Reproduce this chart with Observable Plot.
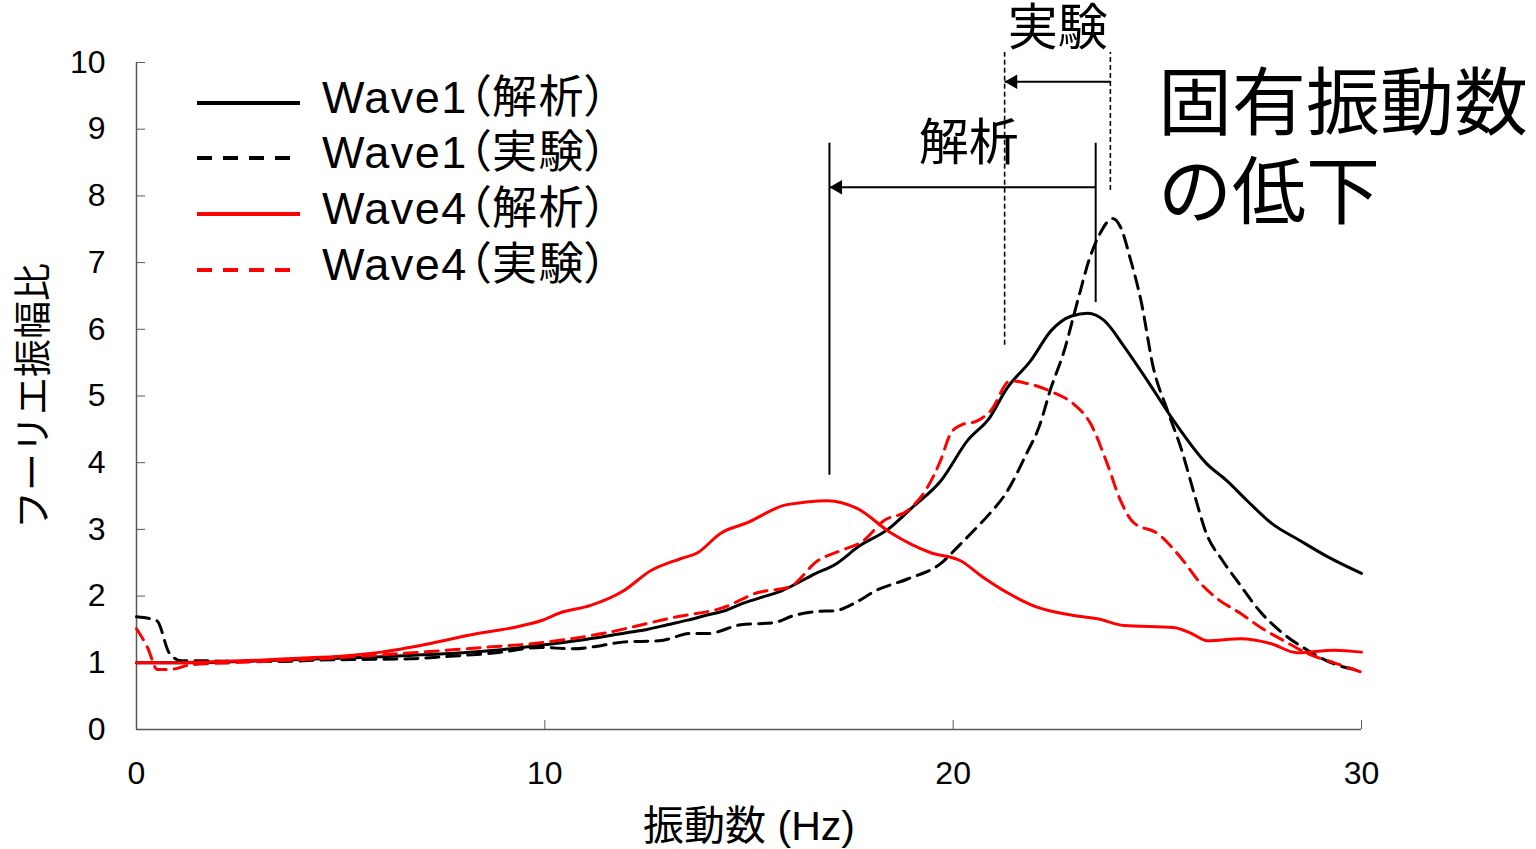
<!DOCTYPE html>
<html>
<head>
<meta charset="utf-8">
<script src="https://cdn.jsdelivr.net/npm/d3@7"></script>
<script src="https://cdn.jsdelivr.net/npm/@observablehq/plot@0.6"></script>
<style>
  html, body { margin: 0; padding: 0; background: #fff; }
  #chart { position: relative; width: 1536px; height: 849px; }
  svg g.legend text { font-feature-settings: "palt"; }
</style>
</head>
<body>
<div id="chart"></div>
<script>
// ---- Data ----
const xTicks = [0, 10, 20, 30];
const yTicks = [0, 1, 2, 3, 4, 5, 6, 7, 8, 9, 10];

// Wave1 (解析) – black solid
const w1aF = [0,1,2,3,4,5,6,7,8,9,10,11,12,12.5,13,13.5,14,14.4,14.8,15.3,15.8,16.2,16.6,17.1,17.7,18.4,19,19.7,20.35,20.9,21.3,21.9,22.4,22.9,23.3,23.7,24.2,24.8,25.4,26.2,26.7,27.2,27.8,28.5,29.2,30];
const w1aV = [1.0,1.0,1.01,1.03,1.05,1.07,1.09,1.12,1.15,1.2,1.27,1.35,1.45,1.5,1.57,1.64,1.72,1.78,1.88,1.98,2.08,2.2,2.33,2.47,2.75,3.0,3.33,3.73,4.33,4.68,5.1,5.53,5.98,6.2,6.24,6.13,5.73,5.19,4.63,3.99,3.73,3.43,3.09,2.83,2.58,2.34];

// Wave1 (実験) – black dashed
const w1eF = [0,0.5,0.8,1.1,1.7,2.5,3.5,4.5,5.5,6.7,7.5,8.8,9.9,10.7,11.4,11.9,12.8,13.6,14.0,14.8,15.6,16.1,16.7,17.1,17.6,18.1,18.9,19.7,20.1,20.5,20.9,21.3,21.8,22.1,22.4,22.7,23.05,23.35,23.6,23.9,24.1,24.35,24.6,24.9,25.25,25.6,25.9,26.2,26.6,27.0,27.5,28.0,28.7,29.3,30];
const w1eV = [1.69,1.63,1.15,1.03,1.03,1.02,1.02,1.04,1.05,1.06,1.09,1.15,1.23,1.21,1.26,1.31,1.33,1.44,1.44,1.57,1.6,1.71,1.77,1.78,1.9,2.08,2.26,2.49,2.73,2.98,3.24,3.55,4.14,4.53,5.13,5.64,6.43,7.08,7.44,7.66,7.53,7.03,6.43,5.43,4.78,4.18,3.54,2.94,2.53,2.19,1.78,1.48,1.18,0.99,0.88];

// Wave4 (解析) – red solid
const w4aF = [0,1,2,3,4,5,6,7.2,8.35,9.24,9.9,10.38,11.12,11.93,12.59,13.32,13.74,14.3,14.96,15.85,16.4,16.92,17.66,18.47,19.45,20.18,20.74,21.33,22.07,22.95,23.54,24.18,25.4,25.8,26.23,27.04,27.77,28.43,29.33,30];
const w4aV = [1.0,1.0,1.02,1.04,1.07,1.1,1.16,1.29,1.44,1.53,1.63,1.75,1.86,2.08,2.38,2.56,2.65,2.94,3.10,3.36,3.41,3.43,3.31,2.95,2.65,2.53,2.28,2.05,1.83,1.71,1.66,1.56,1.53,1.45,1.33,1.36,1.29,1.15,1.19,1.16];

// Wave4 (実験) – red dashed
const w4eF = [0,0.27,0.51,0.83,1.32,2.3,3.5,4.75,6,7.2,8.5,9.9,11.5,13.15,14.38,15.2,16.0,16.68,17.24,17.8,18.3,18.88,19.37,19.69,19.94,20.18,20.6,20.92,21.4,21.73,22.46,22.95,23.36,23.77,24.1,24.42,25.0,25.57,26.06,26.47,27.04,27.53,28.1,28.68,29.33,30];
const w4eV = [1.51,1.23,0.9,0.9,0.97,1.0,1.03,1.07,1.12,1.17,1.23,1.30,1.45,1.68,1.83,2.05,2.14,2.53,2.68,2.83,3.13,3.28,3.63,4.03,4.44,4.56,4.63,4.78,5.23,5.2,5.05,4.88,4.59,3.99,3.43,3.10,2.94,2.58,2.19,1.96,1.74,1.53,1.33,1.14,1.0,0.86];

const seriesNames = ["Wave1（解析）", "Wave1（実験）", "Wave4（解析）", "Wave4（実験）"];
const seriesColors = ["#000000", "#000000", "#ff0000", "#ff0000"];
const seriesDashed = [false, true, false, true];

// Annotations: shift of natural frequency (解析 / 実験)
const annoLabels = ["解析", "実験"];
const annoFromF = [23.49, 23.85];   // original peak frequency
const annoToF = [16.97, 21.26];     // lowered peak frequency
const annoArrowV = [8.13, 9.71];
const annoTopV = [8.79, 10.15];
const annoFromBottomV = [6.4, 8.08];
const annoToBottomV = [3.81, 5.76];
const annoLabelF = [20.38, 22.56];
const annoLabelV = [8.73, 10.45];
const annoDashed = [false, true];
const bigNote = ["固有振動数", "の低下"];
const xLabel = "振動数 (Hz)";
const yLabel = "フーリエ振幅比";

// ---- Build tables ----
const allF = [w1aF, w1eF, w4aF, w4eF];
const allV = [w1aV, w1eV, w4aV, w4eV];
const lineData = seriesNames.map((name, i) => allF[i].map((f, j) => ({f, v: allV[i][j], name})));

const rules = [];
annoLabels.forEach((lab, i) => {
  rules.push({f: annoFromF[i], y1: annoFromBottomV[i], y2: annoTopV[i], dashed: annoDashed[i]});
  rules.push({f: annoToF[i], y1: annoToBottomV[i], y2: annoTopV[i], dashed: annoDashed[i]});
});
const arrows = annoLabels.map((lab, i) => ({x1: annoFromF[i], x2: annoToF[i], v: annoArrowV[i], label: lab, lf: annoLabelF[i], lv: annoLabelV[i]}));

const FONT = "'Liberation Sans', Arial, 'Noto Sans CJK JP', sans-serif";
const AXIS_GRAY = "#595959";

const marks = [
  Plot.axisX(xTicks, {tickSize: -9, tickPadding: 41, fontSize: 32, stroke: AXIS_GRAY, fill: "#000", tickFormat: d3.format("d"), label: null}),
  Plot.axisY(yTicks, {tickSize: -9, tickPadding: 40, fontSize: 32, stroke: AXIS_GRAY, fill: "#000", tickFormat: d3.format("d"), label: null}),
  Plot.ruleX([0], {stroke: AXIS_GRAY, strokeWidth: 1.5}),
  Plot.ruleY([0], {stroke: AXIS_GRAY, strokeWidth: 1.5}),
];
// annotation vertical lines
marks.push(Plot.ruleX(rules.filter(d => !d.dashed), {x: "f", y1: "y1", y2: "y2", stroke: "#000", strokeWidth: 2}));
marks.push(Plot.ruleX(rules.filter(d => d.dashed), {x: "f", y1: "y1", y2: "y2", stroke: "#000", strokeWidth: 1.6, strokeDasharray: "5,3"}));
// arrows
marks.push(Plot.link(arrows, {x1: "x1", x2: "x2", y1: "v", y2: "v", stroke: "#000", strokeWidth: 2}));
marks.push(Plot.dot(arrows, {x: "x2", y: "v", symbol: "triangle", r: 5.4, rotate: -90, dx: 8.4, fill: "#000", stroke: null}));
marks.push(Plot.text(arrows, {x: "lf", y: "lv", text: "label", fontSize: 50, fill: "#000", dy: -3}));

// curves
lineData.forEach((d, i) => {
  marks.push(Plot.line(d, {
    x: "f", y: "v", stroke: seriesColors[i], strokeWidth: 3, curve: "monotone-x",
    strokeDasharray: seriesDashed[i] ? "13,8" : null
  }));
});

// axis titles
marks.push(Plot.text([xLabel], {frameAnchor: "bottom", dy: 97, lineAnchor: "middle", textAnchor: "middle", fontSize: 41, fill: "#000"}));
marks.push(Plot.text([yLabel], {frameAnchor: "left", dx: -103, rotate: -90, lineAnchor: "middle", textAnchor: "middle", fontSize: 38, fill: "#000"}));

const plot = Plot.plot({
  width: 1536,
  height: 849,
  marginLeft: 136,
  marginRight: 175,
  marginTop: 62,
  marginBottom: 120,
  x: {domain: [0, 30]},
  y: {domain: [0, 10]},
  style: {fontFamily: FONT, fontSize: "32px", color: "#000", background: "#fff", overflow: "visible"},
  marks
});

const svg = d3.select(plot);
// legend (inside plot area, upper left)
const legendY = [103, 158, 214, 270];
const lg = svg.append("g").attr("class", "legend").attr("font-family", FONT).attr("font-size", 45).attr("text-anchor", "start");
seriesNames.forEach((name, i) => {
  lg.append("line")
    .attr("x1", 197).attr("x2", 300)
    .attr("y1", legendY[i]).attr("y2", legendY[i])
    .attr("stroke", seriesColors[i]).attr("stroke-width", 4)
    .attr("stroke-dasharray", seriesDashed[i] ? "15,11" : null);
  lg.append("text")
    .attr("x", 322).attr("y", legendY[i] + 10)
    .attr("fill", "#000")
    .attr("letter-spacing", 1.5)
    .text(name);
});
// big note
const note = svg.append("g").attr("font-family", FONT).attr("font-size", 74).attr("fill", "#000").attr("text-anchor", "start");
bigNote.forEach((t, i) => {
  note.append("text").attr("x", 1158).attr("y", 129 + i * 89).text(t);
});

document.getElementById("chart").appendChild(plot);
</script>
</body>
</html>
